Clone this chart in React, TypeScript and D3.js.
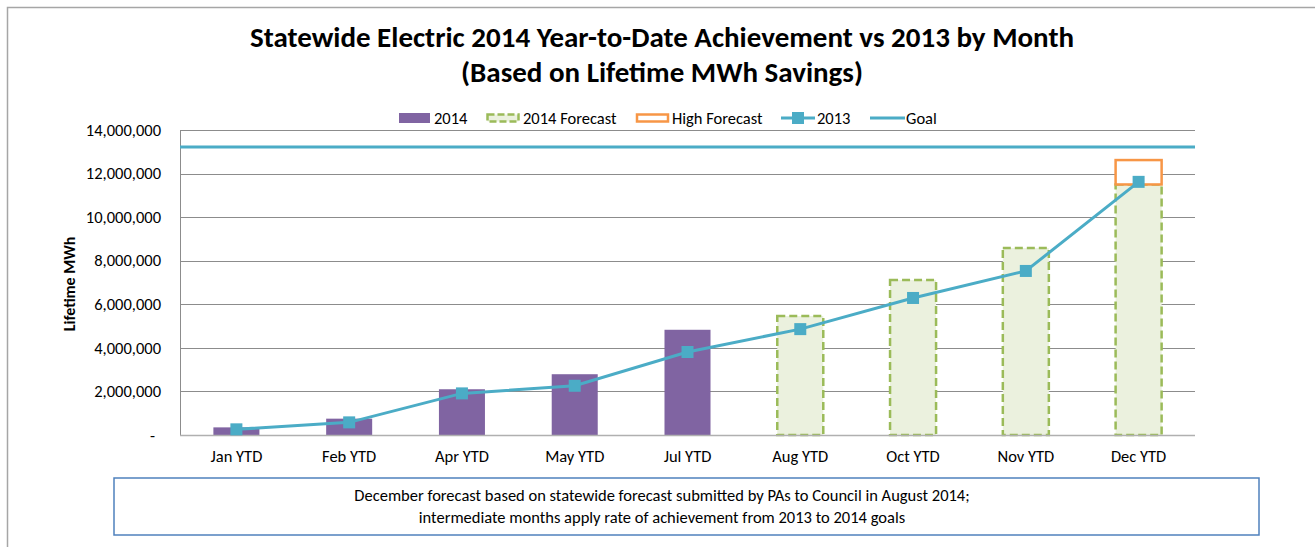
import React, { useRef, useEffect } from 'react';
import * as d3 from 'd3';

const categories = ['Jan YTD', 'Feb YTD', 'Apr YTD', 'May YTD', 'Jul YTD', 'Aug YTD', 'Oct YTD', 'Nov YTD', 'Dec YTD'];
const actual2014 = [350000, 750000, 2100000, 2790000, 4830000, null, null, null, null];
const forecast2014 = [null, null, null, null, null, 5460000, 7110000, 8580000, 11500000];
const highForecast = [null, null, null, null, null, null, null, null, 12620000];
const series2013 = [260000, 580000, 1910000, 2260000, 3810000, 4860000, 6290000, 7530000, 11620000];
const goal = 13220000;
const yTicks = [0, 2000000, 4000000, 6000000, 8000000, 10000000, 12000000, 14000000];

const FONT = 'Carlito, Lato, sans-serif';
const LBL = '16.5px';

const App = () => {
    const svgRef = useRef(null);

    useEffect(() => {
        const svgWidth = 1315;
        const svgHeight = 547;
        const margin = { top: 130, right: 120, bottom: 112, left: 180 };
        const width = svgWidth - margin.left - margin.right;
        const height = svgHeight - margin.top - margin.bottom;

        const svg = d3.select(svgRef.current);
        svg.selectAll('*').remove();

        // outer chart frame (only top + left edges visible)
        svg.append('path')
            .attr('d', `M7.5,${svgHeight} V7.5 H${svgWidth}`)
            .attr('fill', 'none')
            .attr('stroke', '#a6a6a6')
            .attr('stroke-width', 1.5);

        svg.append('text')
            .attr('x', 662).attr('y', 47)
            .attr('text-anchor', 'middle')
            .style('font-family', FONT).style('font-size', '29px').style('font-weight', 'bold')
            .text('Statewide Electric 2014 Year-to-Date Achievement vs 2013 by Month');
        svg.append('text')
            .attr('x', 662).attr('y', 82)
            .attr('text-anchor', 'middle')
            .style('font-family', FONT).style('font-size', '29px').style('font-weight', 'bold')
            .text('(Based on Lifetime MWh Savings)');

        const g = svg.append('g').attr('transform', `translate(${margin.left},${margin.top})`);

        const x = d3.scaleBand().domain(categories).range([0, width]).paddingInner(0.592).paddingOuter(0.296);
        const xc = (c) => x(c) + x.bandwidth() / 2;
        const y = d3.scaleLinear().domain([0, 14000000]).range([height, 0]);

        // gridlines
        g.append('g')
            .selectAll('line')
            .data(yTicks.slice(1))
            .enter()
            .append('line')
            .attr('x1', 0).attr('x2', width)
            .attr('y1', (d) => Math.round(y(d)) + 0.5).attr('y2', (d) => Math.round(y(d)) + 0.5)
            .attr('stroke', '#8c8c8c');

        const yAxis = g.append('g')
            .call(d3.axisLeft(y).tickValues(yTicks).tickSize(0).tickPadding(19)
                .tickFormat((d) => (d === 0 ? '-' : d3.format(',')(d))));
        yAxis.select('.domain').attr('stroke', '#8c8c8c');
        yAxis.selectAll('text').style('font-family', FONT).style('font-size', LBL).attr('fill', '#000');
        yAxis.selectAll('.tick').filter((d) => d === 0).select('text').attr('x', -25);

        svg.append('text')
            .attr('transform', `translate(75,284) rotate(-90)`)
            .attr('text-anchor', 'middle')
            .style('font-family', FONT).style('font-size', '16px').style('font-weight', 'bold')
            .text('Lifetime MWh');

        // 2014 actual bars
        g.selectAll('.bar14')
            .data(categories.map((c, i) => ({ c, v: actual2014[i] })).filter((d) => d.v != null))
            .enter()
            .append('rect')
            .attr('x', (d) => x(d.c))
            .attr('y', (d) => y(d.v))
            .attr('width', x.bandwidth())
            .attr('height', (d) => height - y(d.v))
            .attr('fill', '#8064a2');

        // forecast bars
        g.selectAll('.fc')
            .data(categories.map((c, i) => ({ c, v: forecast2014[i] })).filter((d) => d.v != null))
            .enter()
            .append('rect')
            .attr('x', (d) => x(d.c))
            .attr('y', (d) => y(d.v))
            .attr('width', x.bandwidth())
            .attr('height', (d) => height - y(d.v))
            .attr('fill', '#ebf1de')
            .attr('stroke', '#9bbb59')
            .attr('stroke-width', 2.5)
            .attr('stroke-dasharray', '8,4');

        // high forecast (stacked on forecast)
        g.selectAll('.hf')
            .data(categories.map((c, i) => ({ c, v: highForecast[i], b: forecast2014[i] })).filter((d) => d.v != null))
            .enter()
            .append('rect')
            .attr('x', (d) => x(d.c))
            .attr('y', (d) => y(d.v))
            .attr('width', x.bandwidth())
            .attr('height', (d) => y(d.b) - y(d.v))
            .attr('fill', '#fff')
            .attr('stroke', '#f79646')
            .attr('stroke-width', 2.5);

        // baseline
        g.append('line')
            .attr('x1', 0).attr('x2', width)
            .attr('y1', height + 0.5).attr('y2', height + 0.5)
            .attr('stroke', '#b0b0b0').attr('stroke-width', 1.5);

        // goal
        g.append('line')
            .attr('x1', 0).attr('x2', width)
            .attr('y1', y(goal)).attr('y2', y(goal))
            .attr('stroke', '#4bacc6').attr('stroke-width', 3);

        // 2013 line
        const pts = categories.map((c, i) => ({ c, v: series2013[i] }));
        const line = d3.line().x((d) => xc(d.c)).y((d) => y(d.v));
        g.append('path')
            .datum(pts)
            .attr('fill', 'none')
            .attr('stroke', '#4bacc6')
            .attr('stroke-width', 3)
            .attr('d', line);
        g.selectAll('.mk')
            .data(pts)
            .enter()
            .append('rect')
            .attr('x', (d) => xc(d.c) - 6)
            .attr('y', (d) => y(d.v) - 6)
            .attr('width', 12).attr('height', 12)
            .attr('fill', '#4bacc6');

        // x labels
        const xAxis = g.append('g')
            .attr('transform', `translate(0,${height})`)
            .call(d3.axisBottom(x).tickSize(0).tickPadding(15));
        xAxis.select('.domain').remove();
        xAxis.selectAll('text').style('font-family', FONT).style('font-size', LBL).attr('fill', '#000');

        // legend
        const lg = svg.append('g').style('font-family', FONT).style('font-size', LBL);
        const ly = 118;
        const ty = ly + 5.5;
        lg.append('rect').attr('x', 399).attr('y', ly - 5).attr('width', 31).attr('height', 10).attr('fill', '#8064a2');
        lg.append('text').attr('x', 434).attr('y', ty).text('2014');
        lg.append('rect').attr('x', 487.5).attr('y', ly - 3.5).attr('width', 31).attr('height', 7)
            .attr('fill', '#ebf1de').attr('stroke', '#9bbb59').attr('stroke-width', 2.5).attr('stroke-dasharray', '7,3');
        lg.append('text').attr('x', 523).attr('y', ty).text('2014 Forecast');
        lg.append('rect').attr('x', 637).attr('y', ly - 3.5).attr('width', 31).attr('height', 7)
            .attr('fill', '#fff').attr('stroke', '#f79646').attr('stroke-width', 2.5);
        lg.append('text').attr('x', 672).attr('y', ty).text('High Forecast');
        lg.append('line').attr('x1', 781).attr('x2', 815).attr('y1', ly).attr('y2', ly).attr('stroke', '#4bacc6').attr('stroke-width', 3);
        lg.append('rect').attr('x', 792).attr('y', ly - 6).attr('width', 12).attr('height', 12).attr('fill', '#4bacc6');
        lg.append('text').attr('x', 817).attr('y', ty).text('2013');
        lg.append('line').attr('x1', 870).attr('x2', 905).attr('y1', ly).attr('y2', ly).attr('stroke', '#4bacc6').attr('stroke-width', 3);
        lg.append('text').attr('x', 906).attr('y', ty).text('Goal');

        // footnote box
        svg.append('rect')
            .attr('x', 114).attr('y', 478).attr('width', 1145).attr('height', 57)
            .attr('fill', '#fff').attr('stroke', '#4f81bd').attr('stroke-width', 1.5);
        svg.append('text')
            .attr('x', 662).attr('y', 501).attr('text-anchor', 'middle')
            .style('font-family', FONT).style('font-size', LBL)
            .text('December forecast based on statewide forecast submitted by PAs to Council in August 2014;');
        svg.append('text')
            .attr('x', 662).attr('y', 523).attr('text-anchor', 'middle')
            .style('font-family', FONT).style('font-size', LBL)
            .text('intermediate months apply rate of achievement from 2013 to 2014 goals');
    }, []);

    return (
        <div>
            <svg ref={svgRef} width={1315} height={547} style={{ position: 'absolute', left: 0, top: 0, display: 'block' }} />
        </div>
    );
};

export default App;
